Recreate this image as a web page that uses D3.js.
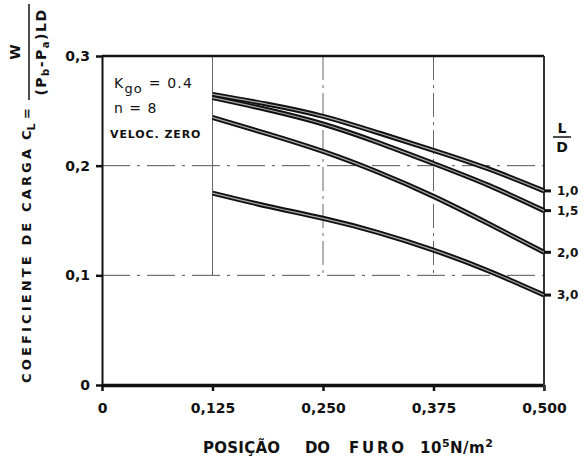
<!DOCTYPE html>
<html>
<head>
<meta charset="utf-8">
<script src="https://cdn.jsdelivr.net/npm/d3@7"></script>
<style>
  html, body { margin: 0; padding: 0; background: #fff; }
  svg text { font-family: "DejaVu Sans", sans-serif; fill: #111; }
</style>
</head>
<body>
<div id="chart"></div>
<script>
(() => {
"use strict";

const WIDTH = 584, HEIGHT = 462;

// data
const positions = [0.125, 0.1875, 0.25, 0.3125, 0.375, 0.4375, 0.5];
const clLD10 = [0.265, 0.256, 0.245, 0.230, 0.214, 0.197, 0.177];
const clLD15 = [0.262, 0.251, 0.238, 0.221, 0.202, 0.182, 0.159];
const clLD20 = [0.244, 0.229, 0.213, 0.194, 0.172, 0.147, 0.121];
const clLD30 = [0.175, 0.163, 0.152, 0.139, 0.123, 0.104, 0.082];
const ldLabels = ["1,0", "1,5", "2,0", "3,0"];

const xTicks = [0, 0.125, 0.25, 0.375, 0.5];
const xTickLabels = ["0", "0,125", "0,250", "0,375", "0,500"];
const yTicks = [0, 0.1, 0.2, 0.3];
const yTickLabels = ["0", "0,1", "0,2", "0,3"];

const series = [clLD10, clLD15, clLD20, clLD30];

let svg = d3.select("#chart").append("svg")
  .attr("width", WIDTH)
  .attr("height", HEIGHT);

let xScale = d3.scaleLinear().domain([0, 0.5]).range([102, 544]);
let yScale = d3.scaleLinear().domain([0, 0.3]).range([385, 56]);

///////////
// Grid  //
///////////

// horizontal dash lines at 0,1 and 0,2
svg.selectAll(".hgrid")
  .data([0.1, 0.2])
  .enter().append("line")
  .attr("x1", xScale(0)).attr("x2", xScale(0.5))
  .attr("y1", d => yScale(d)).attr("y2", d => yScale(d))
  .attr("stroke", "#555")
  .attr("stroke-width", 1)
  .attr("stroke-dasharray", "28,7,3,7");

// vertical lines from top down to 0,1
svg.selectAll(".vgrid")
  .data([0.125, 0.25, 0.375])
  .enter().append("line")
  .attr("x1", d => xScale(d)).attr("x2", d => xScale(d))
  .attr("y1", yScale(0.3)).attr("y2", yScale(0.1))
  .attr("stroke", "#666")
  .attr("stroke-width", 1)
  .attr("stroke-dasharray", (d, i) => i === 0 ? null : "24,5,3,5");

///////////
// Axes  //
///////////

let yAxis = svg.append("g")
  .attr("transform", `translate(${xScale(0)},0)`)
  .call(d3.axisLeft(yScale)
    .tickValues(yTicks)
    .tickFormat((d, i) => yTickLabels[i])
    .tickSize(6)
    .tickSizeOuter(0)
    .tickPadding(6));

let xAxis = svg.append("g")
  .attr("transform", `translate(0,${yScale(0)})`)
  .call(d3.axisBottom(xScale)
    .tickValues(xTicks)
    .tickFormat((d, i) => xTickLabels[i])
    .tickSize(6)
    .tickSizeOuter(0)
    .tickPadding(12));

[yAxis, xAxis].forEach(g => {
  g.selectAll("text")
    .attr("font-family", "DejaVu Sans, sans-serif")
    .attr("font-size", 14)
    .attr("font-weight", "bold")
    .attr("fill", "#111");
  g.selectAll("line").attr("stroke", "#111").attr("stroke-width", 2.5);
});
yAxis.select(".domain").attr("stroke", "#111").attr("stroke-width", 2);
xAxis.select(".domain").attr("stroke", "#111").attr("stroke-width", 3.5);

// top and right border of the frame
svg.append("line")
  .attr("x1", xScale(0)).attr("x2", xScale(0.5))
  .attr("y1", yScale(0.3)).attr("y2", yScale(0.3))
  .attr("stroke", "#111").attr("stroke-width", 2.5);
svg.append("line")
  .attr("x1", xScale(0.5)).attr("x2", xScale(0.5))
  .attr("y1", yScale(0.3)).attr("y2", yScale(0) + 6)
  .attr("stroke", "#333").attr("stroke-width", 2);

////////////
// Curves //
////////////

let line = d3.line()
  .x((d, i) => xScale(positions[i]))
  .y(d => yScale(d))
  .curve(d3.curveNatural);

series.forEach(s => {
  svg.append("path").datum(s)
    .attr("d", line)
    .attr("fill", "none")
    .attr("stroke", "#111")
    .attr("stroke-width", 5);
  svg.append("path").datum(s)
    .attr("d", line)
    .attr("fill", "none")
    .attr("stroke", "#aaa")
    .attr("stroke-width", 1.2);
});

// little marks and L/D labels at the right
series.forEach((s, i) => {
  let yEnd = yScale(s[s.length - 1]);
  svg.append("line")
    .attr("x1", xScale(0.5)).attr("x2", xScale(0.5) + 7)
    .attr("y1", yEnd).attr("y2", yEnd)
    .attr("stroke", "#111").attr("stroke-width", 3);
  svg.append("text")
    .attr("x", xScale(0.5) + 13)
    .attr("y", yEnd)
    .attr("dy", "0.36em")
    .attr("font-size", 12)
    .attr("font-weight", "bold")
    .text(ldLabels[i]);
});

let ld = svg.append("g").attr("transform", "translate(562,0)");
ld.append("text").attr("x", 0).attr("y", 133).attr("text-anchor", "middle")
  .attr("font-size", 14).attr("font-weight", "bold").text("L");
ld.append("line").attr("x1", -9).attr("x2", 9).attr("y1", 137).attr("y2", 137)
  .attr("stroke", "#111").attr("stroke-width", 1.5);
ld.append("text").attr("x", 0).attr("y", 152).attr("text-anchor", "middle")
  .attr("font-size", 14).attr("font-weight", "bold").text("D");

/////////////////
// Annotations //
/////////////////

let k = svg.append("text").attr("x", 114).attr("y", 88)
  .attr("font-size", 14).attr("letter-spacing", 1.2);
k.append("tspan").text("K");
k.append("tspan").attr("dy", 5).attr("font-size", 13).text("go");
k.append("tspan").attr("dy", -5).text(" = 0.4");

svg.append("text").attr("x", 114).attr("y", 113)
  .attr("font-size", 14).attr("letter-spacing", 1)
  .text("n = 8");

svg.append("text").attr("x", 110).attr("y", 138).attr("font-size", 11)
  .attr("font-weight", "bold").attr("letter-spacing", 0.9)
  .text("VELOC. ZERO");

// x axis title, word by word
let xWords = [
  { x: 203, w: 77, t: "POSIÇÃO" },
  { x: 305, w: 25, t: "DO" },
  { x: 349, w: 55, t: "FURO" }
];
xWords.forEach(d => {
  svg.append("text").attr("x", d.x).attr("y", 453)
    .attr("font-size", 15).attr("font-weight", "bold")
    .attr("textLength", d.w).attr("lengthAdjust", "spacing")
    .text(d.t);
});
let un = svg.append("text").attr("x", 420).attr("y", 453)
  .attr("font-size", 15).attr("font-weight", "bold").attr("letter-spacing", 0.5);
un.append("tspan").text("10");
un.append("tspan").attr("dy", -6).attr("font-size", 11).text("5");
un.append("tspan").attr("dy", 6).text("N/m");
un.append("tspan").attr("dy", -6).attr("font-size", 11).text("2");

// y axis title, rotated
let yt = svg.append("g").attr("transform", "rotate(-90)");
yt.append("text").attr("x", -383).attr("y", 31)
  .attr("font-size", 13).attr("font-weight", "bold")
  .attr("textLength", 234).attr("lengthAdjust", "spacing")
  .text("COEFICIENTE DE CARGA");
let cl = yt.append("text").attr("x", -140).attr("y", 31)
  .attr("font-size", 13).attr("font-weight", "bold");
cl.append("tspan").text("C");
cl.append("tspan").attr("dy", 4).attr("font-size", 11).text("L");
cl.append("tspan").attr("dy", -4).text(" =");

yt.append("text").attr("x", -52).attr("y", 20).attr("text-anchor", "middle")
  .attr("font-size", 14).attr("font-weight", "bold").text("W");
yt.append("line").attr("x1", -4).attr("x2", -100).attr("y1", 29).attr("y2", 29)
  .attr("stroke", "#111").attr("stroke-width", 1.5);
let den = yt.append("text").attr("x", -52).attr("y", 46).attr("text-anchor", "middle")
  .attr("font-size", 14).attr("font-weight", "bold").attr("letter-spacing", 1.5);
den.append("tspan").text("(P");
den.append("tspan").attr("dy", 3).attr("font-size", 10).text("b");
den.append("tspan").attr("dy", -3).text("-P");
den.append("tspan").attr("dy", 3).attr("font-size", 10).text("a");
den.append("tspan").attr("dy", -3).text(")LD");
})();
</script>
</body>
</html>
